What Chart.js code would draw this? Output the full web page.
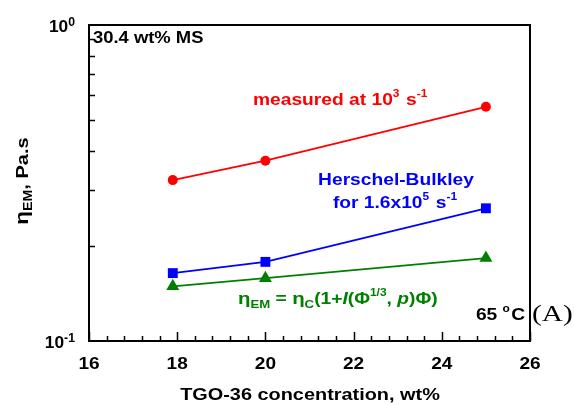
<!DOCTYPE html>
<html>
<head>
<meta charset="utf-8">
<script src="https://cdn.jsdelivr.net/npm/chart.js@4/dist/chart.umd.min.js"></script>
<style>
html,body{margin:0;padding:0;background:#fff;}
canvas{display:block;}
</style>
</head>
<body>
<canvas id="c" width="574" height="405"></canvas>
<script>
// ---- data ----
const concentrations = [17.9, 20.0, 25.0];          // TGO-36 concentration, wt%
const measured = [0.323, 0.372, 0.551];            // measured at 10^3 s^-1
const herschelBulkley = [0.164, 0.178, 0.263];     // Herschel-Bulkley for 1.6x10^5 s^-1
const modelEM = [0.149, 0.158, 0.183];             // eta_EM = eta_C(1+I(...)Phi)
const xTickValues = [16, 18, 20, 22, 24, 26];
const xMinorStep = 0.4;
const yMajorTicks = [0.1, 1];
const yMajorExponents = ['-1', '0'];
const yMinorTicks = [0.2, 0.3, 0.4, 0.5, 0.6, 0.7, 0.8, 0.9];

const FAM = "'Liberation Sans', Arial, Helvetica, sans-serif";

function toPoints(xs, ys) { return xs.map((x, i) => ({x: x, y: ys[i]})); }

function segFont(s) {
  return (s.style !== undefined ? s.style : 'bold') + ' ' + s.size + 'px ' + (s.family || FAM);
}

// rich text: segments {t, size, style, dy, family, gap}; hs = horizontal stretch
function richWidth(ctx, segs) {
  let w = 0;
  segs.forEach(s => { ctx.font = segFont(s); w += ctx.measureText(s.t).width + (s.gap || 0); });
  return w;
}
function drawRich(ctx, x, y, segs, color, align, hs) {
  hs = hs || 1;
  ctx.save();
  ctx.fillStyle = color;
  ctx.textBaseline = 'alphabetic';
  ctx.textAlign = 'left';
  const w = richWidth(ctx, segs) * hs;
  const sx = align === 'center' ? x - w / 2 : (align === 'right' ? x - w : x);
  ctx.translate(sx, y);
  ctx.scale(hs, 1);
  let cx = 0;
  segs.forEach(s => {
    ctx.font = segFont(s);
    ctx.fillText(s.t, cx, s.dy || 0);
    cx += ctx.measureText(s.t).width + (s.gap || 0);
  });
  ctx.restore();
}

const HS = 1.2;

const decorations = {
  id: 'decorations',
  afterDraw(chart) {
    const ctx = chart.ctx;
    const a = chart.chartArea;
    const xs = chart.scales.x, ys = chart.scales.y;
    ctx.save();
    // frame
    ctx.strokeStyle = '#000';
    ctx.lineWidth = 2;
    ctx.strokeRect(a.left, a.top, a.right - a.left, a.bottom - a.top);
    // x ticks (inward)
    ctx.lineWidth = 1.5;
    ctx.beginPath();
    for (let v = xs.min; v <= xs.max + 1e-6; v += xMinorStep) {
      const px = Math.round(xs.getPixelForValue(v)) + 0.5;
      ctx.moveTo(px, a.bottom); ctx.lineTo(px, a.bottom - 5);
    }
    xTickValues.forEach(v => {
      const px = Math.round(xs.getPixelForValue(v)) + 0.5;
      ctx.moveTo(px, a.bottom); ctx.lineTo(px, a.bottom - 9);
    });
    // y minor ticks (inward)
    yMinorTicks.forEach(v => {
      const py = Math.round(ys.getPixelForValue(v)) + 0.5;
      ctx.moveTo(a.left, py); ctx.lineTo(a.left + 6, py);
    });
    ctx.stroke();
    // x tick labels
    xTickValues.forEach(v => {
      drawRich(ctx, xs.getPixelForValue(v), a.bottom + 28, [{t: String(v), size: 17}], '#000', 'center', 1.12);
    });
    // y tick labels 10^n
    yMajorTicks.forEach((v, i) => {
      const py = ys.getPixelForValue(v);
      drawRich(ctx, a.left - 14, py + 7, [
        {t: '10', size: 17},
        {t: yMajorExponents[i], size: 12, dy: -6}
      ], '#000', 'right', 1.02);
    });
    // axis titles
    drawRich(ctx, 310, 400, [{t: 'TGO-36 concentration, wt%', size: 17}], '#000', 'center', 1.17);
    ctx.save();
    ctx.translate(28, 181);
    ctx.rotate(-Math.PI / 2);
    drawRich(ctx, 0, 0, [
      {t: '\u03B7', size: 19},
      {t: 'EM', size: 12, dy: 4},
      {t: ', Pa.s', size: 17}
    ], '#000', 'center', 1.18);
    ctx.restore();
    // annotations
    drawRich(ctx, 93, 43, [{t: '30.4 wt% MS', size: 16}], '#000', 'left', 1.15);
    drawRich(ctx, 253, 105, [
      {t: 'measured at 10', size: 16},
      {t: '3', size: 10, dy: -8, gap: 1},
      {t: ' s', size: 16},
      {t: '-1', size: 10, dy: -8}
    ], '#ff0000', 'left', HS);
    drawRich(ctx, 396, 185, [{t: 'Herschel-Bulkley', size: 16}], '#0000ff', 'center', HS);
    drawRich(ctx, 395, 208, [
      {t: 'for 1.6x10', size: 16},
      {t: '5', size: 10, dy: -8, gap: 1},
      {t: ' s', size: 16},
      {t: '-1', size: 10, dy: -8}
    ], '#0000ff', 'center', HS);
    drawRich(ctx, 238, 304, [
      {t: '\u03B7', size: 17},
      {t: 'EM', size: 11, dy: 4},
      {t: ' = ', size: 16},
      {t: '\u03B7', size: 17},
      {t: 'C', size: 11, dy: 4},
      {t: '(1+', size: 16},
      {t: 'I', size: 16, style: 'italic bold'},
      {t: '(\u03A6', size: 16},
      {t: '1/3', size: 10, dy: -8},
      {t: ', ', size: 16},
      {t: 'p', size: 16, style: 'italic bold'},
      {t: ')\u03A6)', size: 16}
    ], '#008000', 'left', HS);
    drawRich(ctx, 525, 320, [
      {t: '65 ', size: 16},
      {t: 'o', size: 10, dy: -8, gap: 1},
      {t: 'C', size: 16}
    ], '#000', 'right', HS);
    drawRich(ctx, 532, 321, [{t: '(A)', size: 24, style: '', family: "'Liberation Serif', 'Times New Roman', serif"}], '#000', 'left', 1.22);
    ctx.restore();
  }
};

new Chart(document.getElementById('c'), {
  type: 'scatter',
  data: {
    datasets: [
      {
        label: 'measured at 10^3 s^-1',
        data: toPoints(concentrations, measured),
        showLine: true,
        borderColor: '#ff0000',
        backgroundColor: '#ff0000',
        borderWidth: 1.8,
        pointStyle: 'circle',
        pointRadius: 5,
        pointBorderWidth: 0
      },
      {
        label: 'Herschel-Bulkley for 1.6x10^5 s^-1',
        data: toPoints(concentrations, herschelBulkley),
        showLine: true,
        borderColor: '#0000ff',
        backgroundColor: '#0000ff',
        borderWidth: 1.8,
        pointStyle: 'rect',
        pointRadius: 7,
        pointBorderWidth: 0
      },
      {
        label: 'eta_EM model',
        data: toPoints(concentrations, modelEM),
        showLine: true,
        borderColor: '#008000',
        backgroundColor: '#008000',
        borderWidth: 1.8,
        pointStyle: 'triangle',
        pointRadius: 7.5,
        pointBorderWidth: 0
      }
    ]
  },
  options: {
    responsive: false,
    animation: false,
    devicePixelRatio: 1,
    layout: {padding: {left: 89, right: 44, top: 25, bottom: 64}},
    plugins: {legend: {display: false}, tooltip: {enabled: false}},
    scales: {
      x: {type: 'linear', min: 16, max: 26, display: false},
      y: {type: 'logarithmic', min: 0.1, max: 1, display: false}
    }
  },
  plugins: [decorations]
});
</script>
</body>
</html>
